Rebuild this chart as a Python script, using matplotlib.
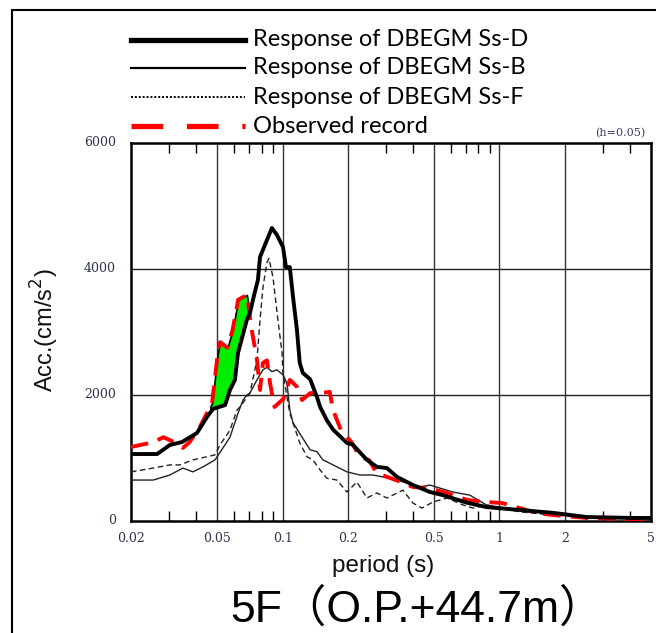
import numpy as np
import matplotlib
matplotlib.use("Agg")
import matplotlib.pyplot as plt
from matplotlib.lines import Line2D
from matplotlib.patches import Rectangle

# ---------------- data ----------------
ssd_period = [0.02, 0.0264, 0.0302, 0.0344, 0.0403, 0.0448, 0.0478, 0.0498, 0.0543, 0.0572,
              0.0603, 0.0623, 0.0685, 0.0707, 0.073, 0.077, 0.0787, 0.0847, 0.0893, 0.0942,
              0.1004, 0.1037, 0.108, 0.1117, 0.1165, 0.120, 0.124, 0.134, 0.144, 0.149,
              0.160, 0.171, 0.198, 0.211, 0.245, 0.272, 0.303, 0.337, 0.40, 0.478,
              0.549, 0.708, 0.875, 1.24, 1.76, 2.53, 4.13, 5.0]
ssd_acc = [1063, 1063, 1206, 1254, 1397, 1650, 1780, 1800, 1840, 2080,
           2240, 2670, 3200, 3300, 3510, 3830, 4190, 4460, 4650, 4540,
           4350, 4030, 4030, 3560, 3030, 2510, 2350, 2250, 1970, 1810,
           1600, 1450, 1240, 1210, 970, 860, 840, 700, 570, 460,
           410, 290, 220, 175, 130, 63, 48, 48]

ssb_period = [0.02, 0.0253, 0.0302, 0.0347, 0.0386, 0.043, 0.0488, 0.0531, 0.0572, 0.0623,
              0.0657, 0.0685, 0.0707, 0.0762, 0.0812, 0.0847, 0.0893, 0.0942, 0.1004, 0.1048,
              0.108, 0.1117, 0.123, 0.134, 0.144, 0.1535, 0.171, 0.198, 0.227, 0.261,
              0.290, 0.337, 0.43, 0.478, 0.61, 0.731, 0.875, 1.24, 1.76, 2.53, 4.13, 5.0]
ssb_acc = [650, 650, 730, 840, 780, 860, 970, 1160, 1330, 1710,
           1920, 2000, 2030, 2240, 2400, 2440, 2370, 2400, 2320, 2190,
           1760, 1560, 1330, 1130, 1100, 970, 890, 780, 730, 730,
           700, 650, 540, 570, 460, 410, 250, 175, 125, 60, 45, 45]

ssf_period = [0.02, 0.0253, 0.0302, 0.0336, 0.0386, 0.0448, 0.0488, 0.0515, 0.0572, 0.0616,
              0.0636, 0.0707, 0.0762, 0.0787, 0.0812, 0.0847, 0.0865, 0.0903, 0.0952, 0.0994,
              0.1004, 0.108, 0.1117, 0.120, 0.1296, 0.138, 0.149, 0.160, 0.178, 0.198,
              0.220, 0.245, 0.272, 0.303, 0.359, 0.399, 0.439, 0.493, 0.573, 0.679,
              0.755, 0.875, 1.24, 1.76, 2.53, 4.13, 5.0]
ssf_acc = [780, 840, 890, 890, 970, 1020, 1050, 1210, 1440, 1760,
           1810, 2030, 2560, 3190, 3710, 4100, 4170, 3870, 3190, 2670,
           2350, 1710, 1560, 1240, 1020, 970, 810, 680, 650, 460,
           620, 365, 445, 365, 490, 285, 205, 300, 365, 255,
           205, 255, 145, 95, 55, 40, 40]

obs_period = [0.02, 0.0253, 0.0282, 0.0317, 0.0347, 0.0372, 0.0415, 0.0463, 0.0473, 0.0503,
              0.0515, 0.0557, 0.0588, 0.0616, 0.0623, 0.0685, 0.0707, 0.0721, 0.0762, 0.0787,
              0.0812, 0.0847, 0.0875, 0.0918, 0.0994, 0.1004, 0.108, 0.1165, 0.123, 0.134,
              0.149, 0.165, 0.171, 0.186, 0.208, 0.227, 0.250, 0.272, 0.303, 0.352,
              0.399, 0.478, 0.573, 0.708, 0.875, 1.03, 1.24, 1.50, 1.76, 2.53, 4.13, 5.0]
obs_acc = [1175, 1250, 1330, 1250, 1160, 1250, 1490, 1810, 1870, 2670,
           2840, 2750, 3030, 3400, 3510, 3590, 3240, 3030, 2560, 2080,
           2510, 2550, 2190, 1810, 1920, 1920, 2240, 2130, 1920, 2030,
           2030, 2050, 1760, 1440, 1250, 1020, 970, 760, 700, 620,
           540, 520, 445, 335, 300, 285, 205, 125, 95, 48, 30, 30]

x_ticks = [0.02, 0.05, 0.1, 0.2, 0.5, 1, 2, 5]
x_tick_labels = ["0.02", "0.05", "0.1", "0.2", "0.5", "1", "2", "5"]
y_ticks = [0, 2000, 4000, 6000]
y_tick_labels = ["0", "2000", "4000", "6000"]
legend_labels = ["Response of DBEGM Ss-D", "Response of DBEGM Ss-B",
                 "Response of DBEGM Ss-F", "Observed record"]

# ---------------- figure ----------------
W, H = 656, 633
fig = plt.figure(figsize=(W / 100, H / 100), dpi=100)

def fx(px):
    return px / W

def fy(py):
    return 1 - py / H

ax = fig.add_axes([fx(131), fy(521), fx(651) - fx(131), fy(143) - fy(521)])
ax.set_xscale("log")
ax.set_xlim(0.02, 5)
ax.set_ylim(0, 6000)

# grid lines
for v in [0.05, 0.1, 0.2, 0.5, 1, 2]:
    ax.axvline(v, color="#333333", lw=1.0, zorder=1)
for v in [2000, 4000]:
    ax.axhline(v, color="#222222", lw=1.0, zorder=1)

# green fill where observed exceeds Ss-D (around 0.047-0.075 s)
grid = np.logspace(np.log10(0.0465), np.log10(0.0725), 200)
obs_i = np.interp(np.log10(grid), np.log10(obs_period), obs_acc)
ssd_i = np.interp(np.log10(grid), np.log10(ssd_period), ssd_acc)
ax.fill_between(grid, ssd_i, obs_i, where=obs_i > ssd_i, facecolor="#00ee00",
                edgecolor="black", lw=1.2, zorder=2, interpolate=True)

ax.plot(ssf_period, ssf_acc, color="#222222", lw=1.0, ls=(0, (4, 2.5)), zorder=3)
ax.plot(ssb_period, ssb_acc, color="#222222", lw=1.0, zorder=3)
ax.plot(obs_period, obs_acc, color="#ff0000", lw=2.8, ls=(0, (4.5, 2.6)), zorder=4)
ax.plot(ssd_period, ssd_acc, color="black", lw=2.8, zorder=5)

for s in ax.spines.values():
    s.set_linewidth(1.8)
    s.set_color("black")

# ticks
ax.set_xticks(x_ticks)
ax.set_xticklabels(x_tick_labels)
ax.xaxis.set_minor_locator(matplotlib.ticker.FixedLocator(
    [0.03, 0.04, 0.06, 0.07, 0.08, 0.09, 0.3, 0.4, 0.6, 0.7, 0.8, 0.9, 3, 4]))
ax.xaxis.set_minor_formatter(matplotlib.ticker.NullFormatter())
ax.tick_params(axis="x", which="both", direction="in", top=True, bottom=True,
               length=7, width=1.0, color="black")
ax.tick_params(axis="x", which="major", length=0, pad=8)
ax.set_yticks(y_ticks)
ax.set_yticklabels(y_tick_labels)
ax.tick_params(axis="y", which="both", length=0, pad=11)
tick_color = "#2e3350"
for lab in ax.get_xticklabels() + ax.get_yticklabels():
    lab.set_fontfamily("DejaVu Serif")
    lab.set_fontsize(9)
    lab.set_color(tick_color)
for lab in ax.get_yticklabels():
    lab.set_verticalalignment("center")

ax.text(0.99, 1.012, "(h=0.05)", transform=ax.transAxes, ha="right", va="bottom",
        fontsize=8, family="DejaVu Serif", color="#3a3a6a")

# axis labels
fig.text(fx(45), fy(330), "Acc.(cm/s$^2$)", rotation=90, ha="center", va="center",
         fontsize=17, family="Liberation Sans", color="#111111")
fig.text(fx(383), fy(566), "period (s)", ha="center", va="center",
         fontsize=17.5, family="Liberation Sans", color="#111111")
fig.text(fx(230), fy(610), "5F（O.P.+44.7m）", ha="left", va="center",
         fontsize=32, family=["Liberation Sans", "Noto Sans CJK JP"], color="black")

# legend (manual)
leg_y = [40, 68, 97, 126]
styles = [dict(color="black", lw=3.8, ls="-"),
          dict(color="black", lw=1.6, ls="-"),
          dict(color="black", lw=1.4, ls=(0, (1, 1))),
          dict(color="#ff0000", lw=3.8, ls=(0, (6, 4.5)))]
for yy, lab, st in zip(leg_y, legend_labels, styles):
    fig.add_artist(Line2D([fx(131), fx(245)], [fy(yy), fy(yy)], transform=fig.transFigure, **st))
    fig.text(fx(253), fy(yy), lab, ha="left", va="center", fontsize=17,
             family=["Lato", "DejaVu Sans"], color="black")

# outer frame (left and top edges visible)
fig.add_artist(Rectangle((fx(12), fy(700)), 1.2, fy(10) - fy(700), transform=fig.transFigure,
                         fill=False, edgecolor="black", lw=1.5))

fig.savefig("out.png", dpi=100)
